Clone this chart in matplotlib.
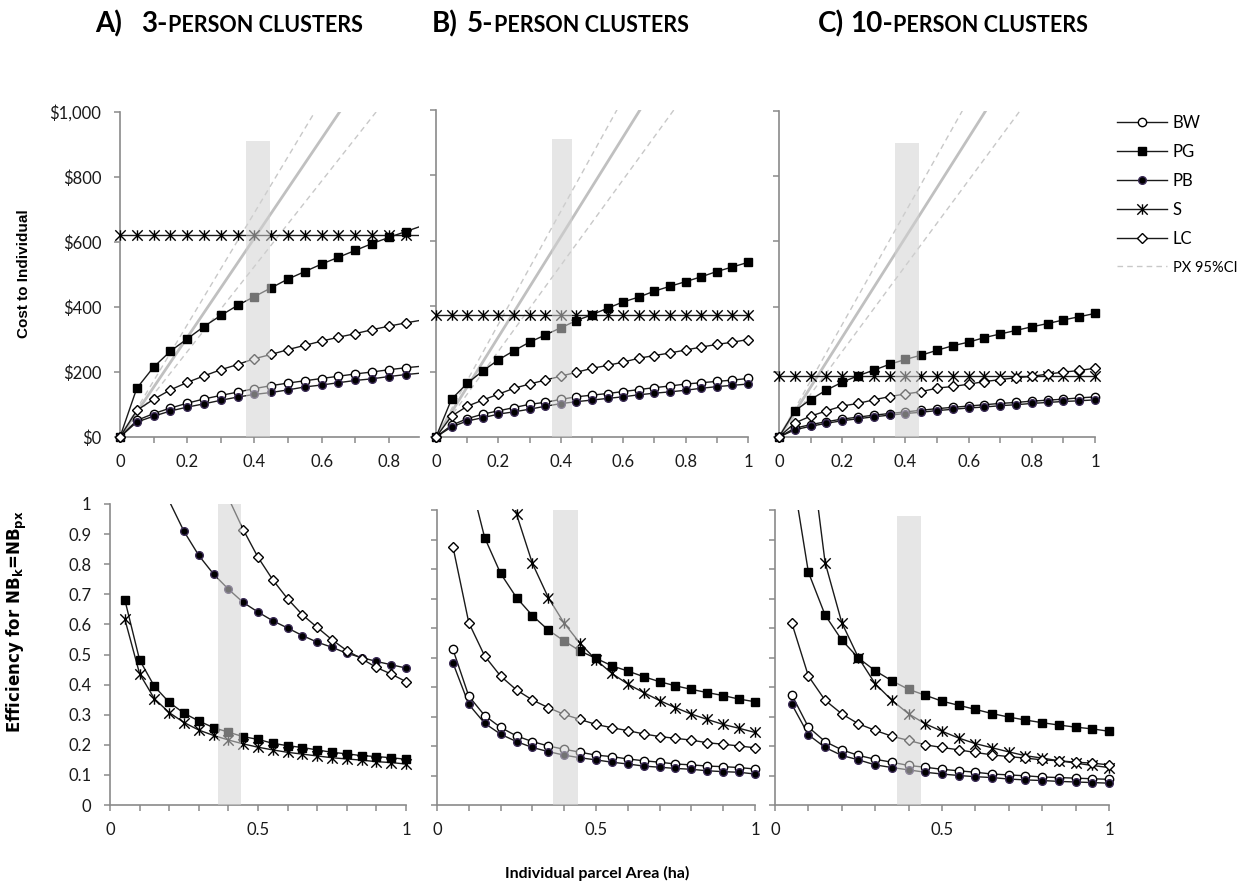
import numpy as np
import matplotlib.pyplot as plt
from matplotlib.path import Path
from matplotlib.lines import Line2D
from matplotlib.ticker import FuncFormatter, MultipleLocator, FixedLocator

plt.rcParams['font.family'] = ['Lato', 'DejaVu Sans']

nan = np.nan
W, H = 1249, 886

# parcel area (ha): cost panels start at 0, efficiency panels at 0.05
area = np.round(np.arange(21) * 0.05, 2)
area_eff = area[1:]

# ---- cost to individual ($) ----
# 3-person (read up to 0.9, axis stops at ~0.89)
c3_bw = [0, 51, 72, 89, 104, 117, 128, 138, 149, 158, 166, 173, 180, 187, 194, 200, 207, 213, 218]
c3_pg = [0, 150, 215, 264, 302, 340, 374, 405, 432, 459, 486, 509, 532, 553, 574, 595, 614, 632, 650]
c3_pb = [0, 46, 64, 80, 92, 102, 113, 123, 131, 137, 145, 154, 160, 167, 174, 179, 186, 192, 197]
c3_lc = [0, 82, 116, 145, 168, 188, 207, 223, 241, 254, 269, 282, 295, 307, 318, 330, 341, 351, 360]
# 5-person
c5_bw = [0, 36, 56, 70, 80, 90, 100, 106, 115, 123, 128, 133, 139, 145, 151, 156, 162, 166, 170, 174, 179]
c5_pg = [0, 116, 164, 202, 236, 264, 290, 312, 334, 356, 374, 394, 413, 428, 446, 461, 475, 490, 506, 520, 534]
c5_pb = [0, 31, 49, 59, 70, 77, 85, 94, 102, 108, 113, 118, 123, 129, 134, 138, 143, 149, 154, 158, 162]
c5_lc = [0, 64, 94, 113, 131, 149, 162, 174, 186, 198, 210, 219, 229, 241, 249, 257, 266, 275, 283, 290, 298]
# 10-person
c10_bw = [0, 27, 38, 47, 55, 61, 67, 72, 77, 82, 87, 91, 95, 99, 103, 106, 110, 113, 116, 120, 123]
c10_pg = [0, 80, 115, 144, 168, 188, 205, 223, 238, 251, 266, 280, 291, 305, 316, 327, 338, 348, 359, 369, 379]
c10_pb = [0, 22, 33, 42, 50, 56, 62, 67, 72, 76, 81, 85, 89, 92, 96, 99, 103, 106, 109, 111, 114]
c10_lc = [0, 43, 64, 80, 95, 103, 114, 124, 132, 139, 150, 155, 162, 170, 176, 182, 186, 193, 199, 204, 211]
# S is flat per cluster size
s_cost = [622, 373, 188]

# PX cost per ha (mean and 95% CI)
px_area = [0, 1]
px_mean = [0, 1530]
px_lo = [0, 1312]
px_hi = [0, 1725]

# ---- efficiency for NBk = NBpx ----
e3_pg = [0.682, 0.482, 0.394, 0.341, 0.305, 0.279, 0.257, 0.242, 0.227, 0.218, 0.205, 0.197, 0.191, 0.183, 0.175, 0.170, 0.164, 0.161, 0.157, 0.152]
e3_s = [0.618, 0.436, 0.353, 0.307, 0.274, 0.249, 0.231, 0.216, 0.203, 0.192, 0.183, 0.175, 0.169, 0.163, 0.157, 0.153, 0.149, 0.144, 0.141, 0.136]
e3_pb = [nan, nan, nan, 1.01, 0.909, 0.829, 0.767, 0.717, 0.673, 0.641, 0.612, 0.588, 0.563, 0.541, 0.524, 0.504, 0.490, 0.477, 0.466, 0.455]
e3_lc = [nan] * 7 + [1.02, 0.915, 0.823, 0.748, 0.685, 0.632, 0.590, 0.549, 0.513, 0.486, 0.457, 0.435, 0.410]

e5_pg = [nan, 1.12, 0.906, 0.785, 0.703, 0.642, 0.593, 0.556, 0.522, 0.497, 0.472, 0.454, 0.435, 0.418, 0.404, 0.392, 0.381, 0.371, 0.359, 0.350]
e5_s = [nan, nan, nan, 1.25, 0.986, 0.819, 0.703, 0.616, 0.548, 0.492, 0.446, 0.410, 0.381, 0.354, 0.330, 0.308, 0.290, 0.273, 0.260, 0.246]
e5_lc = [0.876, 0.618, 0.505, 0.437, 0.390, 0.356, 0.330, 0.307, 0.290, 0.273, 0.262, 0.252, 0.241, 0.232, 0.226, 0.220, 0.211, 0.206, 0.200, 0.194]
e5_bw = [0.528, 0.369, 0.303, 0.263, 0.234, 0.215, 0.200, 0.189, 0.179, 0.169, 0.164, 0.156, 0.150, 0.145, 0.139, 0.136, 0.132, 0.130, 0.127, 0.122]
e5_pb = [0.482, 0.341, 0.277, 0.240, 0.215, 0.195, 0.181, 0.169, 0.160, 0.153, 0.145, 0.139, 0.132, 0.128, 0.124, 0.121, 0.116, 0.113, 0.111, 0.105]

e10_pg = [1.14, 0.789, 0.644, 0.559, 0.498, 0.455, 0.421, 0.392, 0.372, 0.352, 0.338, 0.324, 0.310, 0.298, 0.288, 0.279, 0.271, 0.264, 0.258, 0.250]
e10_s = [nan, 1.27, 0.822, 0.618, 0.499, 0.411, 0.355, 0.309, 0.275, 0.250, 0.227, 0.208, 0.194, 0.180, 0.167, 0.159, 0.150, 0.142, 0.134, 0.127]
e10_lc = [0.618, 0.437, 0.355, 0.309, 0.275, 0.253, 0.233, 0.219, 0.204, 0.195, 0.187, 0.178, 0.170, 0.164, 0.159, 0.153, 0.150, 0.145, 0.142, 0.136]
e10_bw = [0.374, 0.264, 0.215, 0.187, 0.168, 0.155, 0.145, 0.134, 0.128, 0.121, 0.116, 0.111, 0.105, 0.102, 0.099, 0.095, 0.093, 0.091, 0.089, 0.087]
e10_pb = [0.342, 0.238, 0.195, 0.168, 0.153, 0.136, 0.127, 0.119, 0.111, 0.105, 0.100, 0.096, 0.093, 0.088, 0.085, 0.083, 0.080, 0.078, 0.076, 0.074]

# grey band around the PX estimate (lo, hi, top)
band_cost = [(0.375, 0.445, 912), (0.373, 0.436, 912), (0.366, 0.443, 903)]
band_eff = [(0.366, 0.443, 1.0), (0.366, 0.442, 1.0), (0.364, 0.436, 0.98)]

titles = [("A)", "3-", 95, 141), ("B)", "5-", 432, 467), ("C)", "10-", 818, 850)]

# ---- styles ----
star = Path([(0, -1), (0, 1), (-1, -1), (1, 1), (-1, 1), (1, -1)],
            [Path.MOVETO, Path.LINETO] * 3)
style = {
    'BW': dict(marker='o', markerfacecolor='white', markeredgecolor='black', markersize=6),
    'PG': dict(marker='s', markerfacecolor='black', markeredgecolor='black', markersize=5.8),
    'PB': dict(marker='o', markerfacecolor='black', markeredgecolor='#3a2a55', markersize=5.5),
    'S': dict(marker=star, markerfacecolor='none', markeredgecolor='black', markersize=7.5),
    'LC': dict(marker='D', markerfacecolor='white', markeredgecolor='black', markersize=5.5),
}
order = ['BW', 'PG', 'PB', 'S', 'LC']
spine_col = '#8a8a8a'

cost_sets = [
    dict(BW=c3_bw, PG=c3_pg, PB=c3_pb, LC=c3_lc),
    dict(BW=c5_bw, PG=c5_pg, PB=c5_pb, LC=c5_lc),
    dict(BW=c10_bw, PG=c10_pg, PB=c10_pb, LC=c10_lc),
]
eff_sets = [
    dict(PG=e3_pg, PB=e3_pb, S=e3_s, LC=e3_lc),
    dict(BW=e5_bw, PG=e5_pg, PB=e5_pb, S=e5_s, LC=e5_lc),
    dict(BW=e10_bw, PG=e10_pg, PB=e10_pb, S=e10_s, LC=e10_lc),
]

# axes boxes in pixels: x0, x1, ytop, ybottom
cost_boxes = [(120, 419, 112, 437), (436, 748, 110, 437), (779, 1095, 111, 437)]
eff_boxes = [(110, 406, 504, 805), (437, 755, 510, 805), (775, 1109, 510, 805)]
cost_xmax = [0.89, 1.0, 1.0]

fig = plt.figure(figsize=(W / 100, H / 100), dpi=100)


def make_ax(box):
    x0, x1, yt, yb = box
    ax = fig.add_axes([x0 / W, 1 - yb / H, (x1 - x0) / W, (yb - yt) / H])
    for s in ['top', 'right']:
        ax.spines[s].set_visible(False)
    for s in ['left', 'bottom']:
        ax.spines[s].set_color(spine_col)
        ax.spines[s].set_linewidth(1.2)
    ax.tick_params(which='both', direction='out', length=4.5, width=1.1,
                   color=spine_col, labelsize=12, labelcolor='#1a1a1a')
    ax.tick_params(axis='x', pad=8)
    ax.tick_params(axis='y', pad=9)
    return ax


def draw(ax, x, y, name, xmax, ymax):
    x = np.asarray(x, float)
    y = np.asarray(y, float)
    ax.plot(x, y, color='#1a1a1a', lw=1.0, zorder=2)
    ok = ~np.isnan(y) & (x <= xmax) & (y <= ymax)
    ax.plot(x[ok], y[ok], ls='none', clip_on=False, zorder=3,
            markeredgewidth=1.0, **style[name])


money = FuncFormatter(lambda v, p: f"${v:,.0f}")
short = FuncFormatter(lambda v, p: f"{v:.1f}".rstrip('0').rstrip('.'))

for i in range(3):
    # cost panels
    ax = make_ax(cost_boxes[i])
    xmax = cost_xmax[i]
    ax.plot(px_area, px_mean, color='#c0c0c0', lw=2, zorder=1)
    ax.plot(px_area, px_lo, color='#c8c8c8', lw=1, ls=(0, (4, 3)), zorder=1)
    ax.plot(px_area, px_hi, color='#c8c8c8', lw=1, ls=(0, (4, 3)), zorder=1)
    data = dict(cost_sets[i])
    n = len(data['PG'])
    data['S'] = [s_cost[i]] * n
    for name in order:
        draw(ax, area[:n], data[name], name, xmax, 1000)
    lo, hi, top = band_cost[i]
    ax.fill_between([lo, hi], 0, top, color='#d2d2d2', alpha=0.55, lw=0, zorder=10)
    ax.set_xlim(0, xmax)
    ax.set_ylim(0, 1000)
    ax.xaxis.set_major_locator(MultipleLocator(0.2))
    ax.xaxis.set_minor_locator(MultipleLocator(0.1))
    ax.xaxis.set_major_formatter(FuncFormatter(lambda v, p: f"{v:g}"))
    ax.yaxis.set_major_locator(MultipleLocator(200))
    if i == 0:
        ax.yaxis.set_major_formatter(money)
    else:
        ax.set_yticklabels([])

    # efficiency panels
    ax = make_ax(eff_boxes[i])
    for name in order:
        if name in eff_sets[i]:
            draw(ax, area_eff, eff_sets[i][name], name, 1.0, 1.0)
    lo, hi, top = band_eff[i]
    ax.fill_between([lo, hi], 0, top, color='#d2d2d2', alpha=0.55, lw=0, zorder=10)
    ax.set_xlim(0, 1)
    ax.set_ylim(0, 1)
    ax.xaxis.set_major_locator(FixedLocator([0, 0.5, 1]))
    ax.xaxis.set_minor_locator(MultipleLocator(0.1))
    ax.xaxis.set_major_formatter(FuncFormatter(lambda v, p: f"{v:g}"))
    ax.yaxis.set_major_locator(MultipleLocator(0.1))
    if i == 0:
        ax.yaxis.set_major_formatter(short)
    else:
        ax.set_yticklabels([])

# legend
handles = [Line2D([], [], color='#1a1a1a', lw=1, markeredgewidth=1.0, **style[n]) for n in order]
handles.append(Line2D([], [], color='#c8c8c8', lw=1, ls=(0, (4, 3))))
leg = fig.legend(handles, order + ['PX 95%CI'], loc='upper left',
                 bbox_to_anchor=(1102 / W, 1 - 100 / H), frameon=False,
                 fontsize=12, handlelength=3.0, handletextpad=0.35, labelspacing=0.78)
leg.get_texts()[-1].set_fontsize(10.5)

# axis titles
fig.text(24 / W, 1 - 274 / H, 'Cost to Individual', rotation=90, ha='center', va='center',
         fontsize=11, fontweight='bold', family=['Liberation Sans', 'DejaVu Sans'])
fig.text(17 / W, 1 - 622 / H, r'Efficiency for NB$_\mathregular{k}$=NB$_\mathregular{px}$',
         rotation=90, ha='center', va='center', fontsize=12, fontweight='bold',
         family=['DejaVu Sans'])
fig.text(597 / W, 1 - 873 / H, 'Individual parcel Area (ha)', ha='center', va='center',
         fontsize=11.5, fontweight='bold')

# panel headers: big letter/number, small-caps remainder
r = fig.canvas.get_renderer()
yb = 1 - 32 / H
for lab, num, xa, xn in titles:
    fig.text(xa / W, yb, lab, fontsize=20, fontweight='bold', va='baseline')
    t = fig.text(xn / W, yb, num, fontsize=20, fontweight='bold', va='baseline')
    bb = t.get_window_extent(renderer=r)
    fig.text(bb.x1 / W, yb, 'PERSON CLUSTERS', fontsize=15.5, fontweight='bold', va='baseline')

fig.savefig('out.png', dpi=100)
